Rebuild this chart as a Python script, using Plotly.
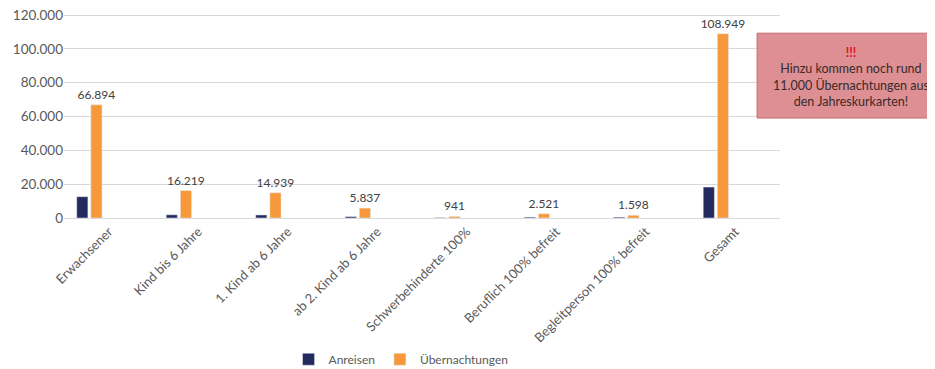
import plotly.graph_objects as go

categories = ["Erwachsener", "Kind bis 6 Jahre", "1. Kind ab 6 Jahre", "ab 2. Kind ab 6 Jahre",
              "Schwerbehinderte 100%", "Beruflich 100% befreit", "Begleitperson 100% befreit", "Gesamt"]
anreisen = [12600, 1900, 1800, 800, 200, 500, 500, 18300]
uebernachtungen = [66894, 16219, 14939, 5837, 941, 2521, 1598, 108949]
y_ticks = [0, 20000, 40000, 60000, 80000, 100000, 120000]

FONT = "Lato, 'Open Sans', sans-serif"

fig = go.Figure()
fig.add_trace(go.Bar(
    x=categories, y=anreisen, name="Anreisen",
    marker=dict(color="#222a5e"), offset=-0.358, width=0.125,
))
fig.add_trace(go.Bar(
    x=categories, y=uebernachtungen, name="Übernachtungen",
    marker=dict(color="#f7993a"), offset=-0.2, width=0.125,
    text=uebernachtungen, texttemplate="%{y:,d}", textposition="outside",
    constraintext="none",
    textfont=dict(size=12, color="#404040", family=FONT), cliponaxis=False,
))

# page body has an 8px margin, so the figure is 8px smaller and offsets shifted
fig.update_layout(
    width=927, height=361,
    margin=dict(l=56, r=155, t=6, b=151, autoexpand=False),
    paper_bgcolor="white", plot_bgcolor="white",
    barmode="overlay",
    separators=",.",
    font=dict(family=FONT, color="#595959", size=12),
    showlegend=True,
    legend=dict(orientation="h", xref="container", yref="container",
                x=0.424, xanchor="center", y=0.027, yanchor="middle",
                font=dict(size=12, color="#595959"), itemwidth=30, traceorder="normal"),
    xaxis=dict(type="category", tickangle=-45, showgrid=False, showline=True,
               linecolor="#d9d9d9", ticks="", automargin=False,
               tickfont=dict(size=13, color="#595959")),
    yaxis=dict(range=[0, 120600], tickvals=y_ticks, tickformat=",d", showgrid=True,
               gridcolor="#d9d9d9", zeroline=False, showline=False, ticks="", automargin=False,
               ticklabeloverflow="allow",
               tickfont=dict(size=13.5, color="#595959")),
)

fig.add_shape(type="rect", xref="paper", yref="paper",
              x0=0.968, x1=1.22, y0=0.490, y1=0.906,
              fillcolor="#dd8f93", line=dict(color="#c86a6e", width=1), layer="above")
fig.add_annotation(xref="paper", yref="paper", x=1.099, y=0.689, xanchor="center", yanchor="middle",
                   text="<b><span style='color:#e0141c'>!!!</span></b><br>Hinzu kommen noch rund<br>11.000 Übernachtungen aus<br>den Jahreskurkarten!",
                   showarrow=False, align="center",
                   font=dict(size=12.5, color="#3a2a2a", family=FONT))

fig.write_html("out.html")
